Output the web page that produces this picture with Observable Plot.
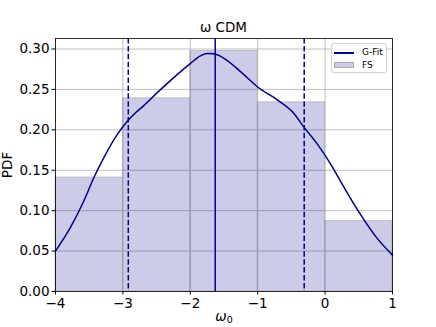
<!DOCTYPE html>
<html>
<head>
<meta charset="utf-8">
<script src="https://cdn.jsdelivr.net/npm/d3@7"></script>
<script src="https://cdn.jsdelivr.net/npm/@observablehq/plot@0.6"></script>
<style>
  body { margin: 0; background: white; }
  #wrap { position: relative; width: 436px; height: 327px; font-family: "DejaVu Sans", sans-serif; }
  #title { position: absolute; left: 0; width: 447px; top: 20px; text-align: center; font-size: 13.5px; line-height: 15px; }
  #legend { position: absolute; left: 331px; top: 43px; width: 56px; height: 30px; border: 1px solid #d0d0d0; border-radius: 3px; background: rgba(255,255,255,0.8); box-sizing: border-box; font-size: 9px; }
  .lt { position: absolute; left: 30px; line-height: 10px; }
</style>
</head>
<body>
<div id="wrap">
  <div id="chart"></div>
  <div id="title">ω CDM</div>
  <div id="legend">
    <div style="position:absolute;left:2px;top:8px;width:20px;height:1.5px;background:#00008b"></div>
    <div class="lt" style="top:3px">G-Fit</div>
    <div style="position:absolute;left:2px;top:18px;width:20px;height:6px;background:rgba(0,0,139,0.2);border:0.5px solid #aaa;box-sizing:border-box"></div>
    <div class="lt" style="top:16px">FS</div>
  </div>
</div>
<script>
// Histogram (FS)
const binLeft  = [-4, -3, -2, -1, 0];
const binRight = [-3, -2, -1, 0, 1];
const binPdf   = [0.141, 0.239, 0.2975, 0.234, 0.087];

// Gaussian fit curve (G-Fit)
const fitX = [-4, -3.78, -3.58, -3.43, -3.28, -3.085, -2.94, -2.8, -2.69, -2.49, -2.32, -2.2, -2.0, -1.85, -1.75, -1.65, -1.50, -1.255, -1.0, -0.71, -0.46, -0.32, -0.12, 0.08, 0.28, 0.52, 0.77, 1.0];
const fitY = [0.050, 0.079, 0.112, 0.141, 0.166, 0.194, 0.210, 0.222, 0.230, 0.246, 0.259, 0.268, 0.282, 0.2915, 0.2945, 0.2940, 0.2885, 0.272, 0.253, 0.237, 0.220, 0.204, 0.183, 0.158, 0.129, 0.096, 0.066, 0.045];

// Vertical markers
const medianX = [-1.63];
const boundsX = [-2.92, -0.31];

const xTicks = [-4, -3, -2, -1, 0, 1];
const yTicks = [0, 0.05, 0.10, 0.15, 0.20, 0.25, 0.30];

const bars = binLeft.map((x1, i) => ({x1, x2: binRight[i], y: binPdf[i]}));
const fit = fitX.map((x, i) => ({x, y: fitY[i]}));
const blue = "#00008b";

const chart = Plot.plot({
  width: 436,
  height: 327,
  marginLeft: 55,
  marginRight: 44,
  marginTop: 38,
  marginBottom: 36,
  style: { fontFamily: "DejaVu Sans", fontSize: "13.5px", background: "white", color: "black" },
  x: { domain: [-4, 1] },
  y: { domain: [0, 0.313] },
  marks: [
    Plot.gridX(xTicks, { stroke: "#b0b0b0", strokeOpacity: 1, strokeWidth: 0.8 }),
    Plot.gridY(yTicks, { stroke: "#b0b0b0", strokeOpacity: 1, strokeWidth: 0.8 }),
    Plot.rectY(bars, { x1: "x1", x2: "x2", y: "y", fill: blue, fillOpacity: 0.2, stroke: "#a0a0a0", strokeWidth: 0.8, strokeOpacity: 0.7, inset: 0 }),
    Plot.line(fit, { x: "x", y: "y", stroke: blue, strokeWidth: 1.5, curve: "monotone-x" }),
    Plot.ruleX(medianX, { stroke: blue, strokeWidth: 1.5 }),
    Plot.ruleX(boundsX, { stroke: blue, strokeWidth: 1.5, strokeDasharray: "5.5,2.4" }),
    Plot.frame({ stroke: "black", strokeWidth: 0.8 }),
    Plot.axisX(xTicks, { tickSize: 3.5, tickPadding: 3, tickFormat: d => d < 0 ? "\u2212" + Math.abs(d) : String(d), label: "ω0", labelAnchor: "center", labelOffset: 29, labelArrow: "none" }),
    Plot.axisY(yTicks, { tickSize: 3.5, tickPadding: 2.5, tickFormat: d3.format(".2f"), label: "PDF", labelAnchor: "center", labelOffset: 53, labelArrow: "none" })
  ]
});
// render the x label as ω with a subscript 0
chart.querySelectorAll("text").forEach(t => {
  if (t.textContent === "ω0") {
    t.textContent = "";
    const a = document.createElementNS("http://www.w3.org/2000/svg", "tspan");
    a.textContent = "ω";
    a.setAttribute("font-style", "italic");
    const b = document.createElementNS("http://www.w3.org/2000/svg", "tspan");
    b.textContent = "0";
    b.setAttribute("font-size", "9.5");
    b.setAttribute("dy", "2.5");
    t.appendChild(a); t.appendChild(b);
  }
});
document.getElementById("chart").appendChild(chart);
</script>
</body>
</html>
